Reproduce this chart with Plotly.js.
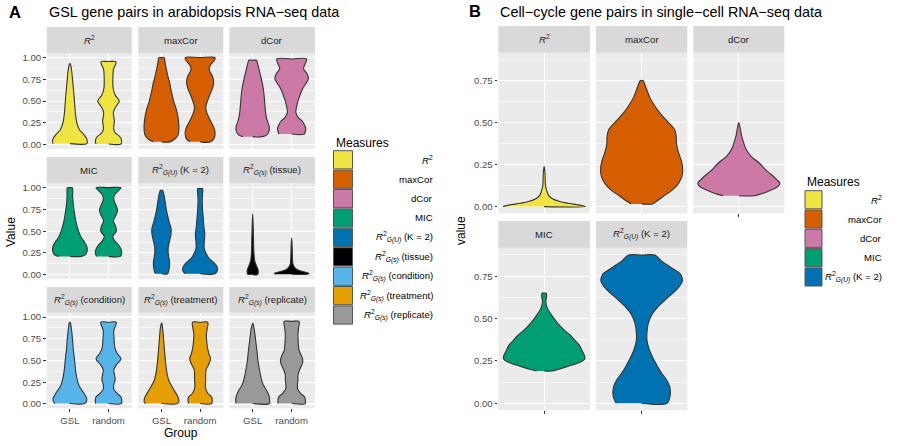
<!DOCTYPE html>
<html><head><meta charset="utf-8">
<script src="https://cdn.plot.ly/plotly-3.0.1.min.js"></script>
<style>html,body{margin:0;padding:0;background:#fff}#chart{width:900px;height:446px}</style>
</head><body><div id="chart"></div>
<script>
// ================= DATA =================
// Panel A: GSL gene pairs in arabidopsis RNA-seq data
const groupsA = ["GSL", "random"];
const measureLabelsA = [
  "<i>R</i><sup>2</sup>", "maxCor", "dCor", "MIC",
  "<i>R</i><sup>2</sup><sub><i>G(U)</i></sub> (K = 2)",
  "<i>R</i><sup>2</sup><sub><i>G(s)</i></sub> (tissue)",
  "<i>R</i><sup>2</sup><sub><i>G(s)</i></sub> (condition)",
  "<i>R</i><sup>2</sup><sub><i>G(s)</i></sub> (treatment)",
  "<i>R</i><sup>2</sup><sub><i>G(s)</i></sub> (replicate)"
];
const measureColorsA = ["#F0E442", "#D55E00", "#CC79A7", "#009E73", "#0072B2", "#000000", "#56B4E9", "#E69F00", "#999999"];

// Violin density profiles: value levels (Y) and relative half-widths (W)
const r2GslY = [0.01, 0.04, 0.08, 0.12, 0.17, 0.25, 0.35, 0.45, 0.6, 0.75, 0.85, 0.93];
const r2GslW = [0.97, 1.0, 0.93, 0.78, 0.55, 0.4, 0.32, 0.28, 0.22, 0.15, 0.1, 0.02];
const r2RndY = [0.005, 0.03, 0.07, 0.1, 0.13, 0.17, 0.21, 0.27, 0.32, 0.37, 0.43, 0.5, 0.57, 0.65, 0.75, 0.85, 0.9, 0.93, 0.955];
const r2RndW = [0.72, 0.75, 0.72, 0.6, 0.4, 0.3, 0.3, 0.34, 0.3, 0.28, 0.4, 0.62, 0.38, 0.26, 0.25, 0.27, 0.35, 0.42, 0.42];

const mcGslY = [0.03, 0.06, 0.1, 0.15, 0.22, 0.3, 0.4, 0.5, 0.6, 0.7, 0.8, 0.9, 0.96, 1.0];
const mcGslW = [0.48, 0.75, 0.93, 0.99, 1.0, 0.96, 0.86, 0.7, 0.58, 0.48, 0.35, 0.25, 0.19, 0.16];
const mcRndY = [0.03, 0.07, 0.12, 0.18, 0.25, 0.32, 0.38, 0.44, 0.5, 0.57, 0.64, 0.71, 0.78, 0.84, 0.88, 0.93, 0.97, 1.0];
const mcRndW = [0.6, 0.8, 0.86, 0.82, 0.65, 0.48, 0.36, 0.33, 0.42, 0.55, 0.7, 0.78, 0.72, 0.56, 0.52, 0.65, 0.82, 0.86];

const dcGslY = [0.09, 0.12, 0.17, 0.22, 0.28, 0.35, 0.45, 0.55, 0.65, 0.75, 0.85, 0.93, 0.97];
const dcGslW = [0.55, 0.85, 0.95, 0.93, 0.82, 0.75, 0.7, 0.66, 0.6, 0.5, 0.38, 0.28, 0.22];
const dcRndY = [0.12, 0.15, 0.19, 0.23, 0.27, 0.31, 0.37, 0.43, 0.5, 0.57, 0.64, 0.7, 0.76, 0.82, 0.87, 0.93, 0.985];
const dcRndW = [0.72, 0.78, 0.8, 0.72, 0.6, 0.38, 0.24, 0.28, 0.36, 0.48, 0.62, 0.8, 0.96, 0.86, 0.68, 0.78, 0.85];

const micGslY = [0.21, 0.23, 0.27, 0.32, 0.37, 0.43, 0.5, 0.6, 0.7, 0.8, 0.9, 1.0];
const micGslW = [0.65, 0.9, 0.99, 0.98, 0.85, 0.65, 0.5, 0.36, 0.27, 0.2, 0.16, 0.14];
const micRndY = [0.21, 0.24, 0.28, 0.33, 0.39, 0.44, 0.5, 0.56, 0.62, 0.68, 0.74, 0.8, 0.87, 0.92, 0.96, 1.0];
const micRndW = [0.68, 0.75, 0.74, 0.62, 0.35, 0.24, 0.45, 0.4, 0.28, 0.42, 0.52, 0.42, 0.3, 0.36, 0.55, 0.72];

const rguGslY = [0.01, 0.05, 0.1, 0.15, 0.2, 0.27, 0.33, 0.4, 0.47, 0.53, 0.6, 0.68, 0.76, 0.85, 0.92, 0.97];
const rguGslW = [0.35, 0.42, 0.46, 0.46, 0.42, 0.38, 0.4, 0.48, 0.55, 0.55, 0.45, 0.35, 0.27, 0.2, 0.14, 0.06];
const rguRndY = [0.01, 0.04, 0.07, 0.1, 0.14, 0.18, 0.23, 0.3, 0.38, 0.46, 0.55, 0.65, 0.75, 0.85, 0.93, 0.99];
const rguRndW = [0.85, 0.98, 1.0, 0.95, 0.78, 0.55, 0.38, 0.24, 0.24, 0.27, 0.22, 0.18, 0.14, 0.12, 0.14, 0.14];

const tisGslY = [0.0, 0.03, 0.06, 0.1, 0.15, 0.2, 0.3, 0.4, 0.55, 0.7];
const tisGslW = [0.28, 0.32, 0.3, 0.22, 0.13, 0.09, 0.06, 0.05, 0.03, 0.0];
const tisRndY = [0.005, 0.015, 0.03, 0.05, 0.08, 0.12, 0.18, 0.25, 0.33, 0.42];
const tisRndW = [0.9, 1.0, 0.75, 0.4, 0.18, 0.08, 0.05, 0.04, 0.03, 0.0];

const conGslY = [0.005, 0.03, 0.06, 0.1, 0.15, 0.2, 0.28, 0.38, 0.5, 0.62, 0.75, 0.86, 0.94];
const conGslW = [0.85, 0.95, 0.97, 0.88, 0.72, 0.55, 0.42, 0.33, 0.27, 0.2, 0.15, 0.09, 0.02];
const conRndY = [0.005, 0.04, 0.08, 0.12, 0.17, 0.22, 0.28, 0.33, 0.39, 0.45, 0.52, 0.58, 0.65, 0.75, 0.84, 0.9, 0.94];
const conRndW = [0.74, 0.76, 0.72, 0.5, 0.3, 0.3, 0.38, 0.35, 0.3, 0.45, 0.72, 0.5, 0.36, 0.32, 0.3, 0.4, 0.45];

const trtGslY = [0.005, 0.03, 0.06, 0.1, 0.15, 0.2, 0.27, 0.35, 0.45, 0.55, 0.67, 0.8, 0.88, 0.935];
const trtGslW = [0.92, 1.0, 0.98, 0.9, 0.75, 0.6, 0.42, 0.32, 0.25, 0.2, 0.15, 0.1, 0.06, 0.01];
const trtRndY = [0.005, 0.04, 0.08, 0.12, 0.17, 0.22, 0.28, 0.34, 0.4, 0.46, 0.52, 0.58, 0.65, 0.72, 0.8, 0.88, 0.94];
const trtRndW = [0.66, 0.7, 0.66, 0.45, 0.33, 0.3, 0.32, 0.32, 0.35, 0.5, 0.6, 0.5, 0.42, 0.38, 0.36, 0.42, 0.44];

const repGslY = [0.005, 0.04, 0.08, 0.12, 0.17, 0.22, 0.3, 0.4, 0.5, 0.6, 0.7, 0.8, 0.88, 0.93];
const repGslW = [0.95, 0.97, 0.95, 0.88, 0.75, 0.6, 0.48, 0.38, 0.3, 0.25, 0.19, 0.13, 0.07, 0.01];
const repRndY = [0.005, 0.04, 0.08, 0.12, 0.17, 0.22, 0.28, 0.33, 0.39, 0.45, 0.5, 0.56, 0.62, 0.7, 0.8, 0.88, 0.95];
const repRndW = [0.78, 0.78, 0.74, 0.52, 0.34, 0.33, 0.36, 0.36, 0.45, 0.58, 0.64, 0.55, 0.42, 0.38, 0.36, 0.4, 0.43];

// Panel B: Cell-cycle gene pairs in single-cell RNA-seq data
const measureLabelsB = measureLabelsA.slice(0, 5);
const measureColorsB = measureColorsA.slice(0, 5);
const bR2Y = [0.0, 0.006, 0.012, 0.02, 0.03, 0.05, 0.07, 0.09, 0.12, 0.16, 0.2, 0.24];
const bR2W = [1.0, 0.92, 0.78, 0.58, 0.38, 0.18, 0.1, 0.07, 0.035, 0.025, 0.02, 0.0];
const bMcY = [0.016, 0.03, 0.06, 0.1, 0.14, 0.18, 0.22, 0.27, 0.32, 0.37, 0.42, 0.46, 0.5, 0.55, 0.6, 0.65, 0.7, 0.752];
const bMcW = [0.26, 0.35, 0.52, 0.75, 0.9, 0.98, 1.0, 0.97, 0.9, 0.85, 0.84, 0.8, 0.66, 0.47, 0.32, 0.2, 0.12, 0.03];
const bDcY = [0.065, 0.08, 0.1, 0.12, 0.14, 0.16, 0.19, 0.22, 0.26, 0.3, 0.34, 0.38, 0.42, 0.46, 0.5];
const bDcW = [0.38, 0.6, 0.8, 0.96, 1.0, 0.93, 0.8, 0.65, 0.5, 0.3, 0.18, 0.12, 0.07, 0.04, 0.0];
const bMicY = [0.19, 0.2, 0.22, 0.24, 0.26, 0.28, 0.31, 0.34, 0.37, 0.4, 0.44, 0.48, 0.52, 0.56, 0.6, 0.63, 0.65];
const bMicW = [0.18, 0.35, 0.6, 0.85, 0.98, 0.98, 0.92, 0.86, 0.75, 0.64, 0.45, 0.3, 0.18, 0.08, 0.04, 0.06, 0.05];
const bRguY = [0.0, 0.03, 0.06, 0.1, 0.14, 0.18, 0.22, 0.27, 0.32, 0.37, 0.42, 0.47, 0.52, 0.57, 0.62, 0.67, 0.72, 0.76, 0.8, 0.84, 0.875];
const bRguW = [0.62, 0.68, 0.7, 0.68, 0.6, 0.48, 0.38, 0.27, 0.18, 0.13, 0.13, 0.16, 0.24, 0.4, 0.62, 0.85, 0.99, 0.95, 0.72, 0.48, 0.32];

const yTicksA = [0, 0.25, 0.5, 0.75, 1.0];
const yTicksB = [0, 0.25, 0.5, 0.75];

// ================= BUILD =================
const FONT = 'Liberation Sans, Arial, Helvetica, sans-serif';
const W = 900, H = 446;
const px = v => v / W, py = v => 1 - v / H;

const layout = {
  width: W, height: H, autosize: false,
  margin: {l: 0, r: 0, t: 0, b: 0},
  paper_bgcolor: '#ffffff', plot_bgcolor: '#ebebeb',
  showlegend: false, font: {family: FONT, color: '#000'},
  shapes: [], annotations: []
};
const traces = [];
let axN = 0;

function ann(x, y, text, o) {
  layout.annotations.push(Object.assign({
    xref: 'paper', yref: 'paper', x: px(x), y: py(y), text: text, showarrow: false,
    xanchor: 'center', yanchor: 'middle', font: {family: FONT, size: 9.6, color: '#1a1a1a'}
  }, o || {}));
}

function addPanel(o) {
  axN++;
  const s = axN === 1 ? '' : String(axN);
  const tickFont = {family: FONT, size: 9.6, color: '#4d4d4d'};
  const xa = {
    domain: [px(o.x0), px(o.x1)], range: o.xrange, anchor: 'y' + s,
    tickmode: 'array', tickvals: o.xtv,
    showticklabels: !!o.xlabels, ticks: o.xticks ? 'outside' : '', ticklen: 2.7, tickwidth: 1, tickcolor: '#333',
    showgrid: true, gridcolor: '#ffffff', gridwidth: 1.1, zeroline: false, showline: false,
    fixedrange: true, tickfont: tickFont
  };
  if (o.xtt) xa.ticktext = o.xtt;
  layout['xaxis' + s] = xa;
  layout['yaxis' + s] = {
    domain: [py(o.bot), py(o.top)], range: o.yrange, anchor: 'x' + s,
    tickmode: 'array', tickvals: o.ytv, tickformat: '.2f',
    showticklabels: !!o.ylabels, ticks: o.ylabels ? 'outside' : '', ticklen: 2.7, tickwidth: 1, tickcolor: '#333',
    showgrid: true, gridcolor: '#ffffff', gridwidth: 1.1, zeroline: false, showline: false,
    fixedrange: true, tickfont: tickFont,
    minor: {tickmode: 'linear', tick0: 0.125, dtick: 0.25, showgrid: true, gridcolor: '#ffffff', gridwidth: 0.55, ticks: ''}
  };
  // strip
  layout.shapes.push({type: 'rect', xref: 'paper', yref: 'paper', x0: px(o.x0), x1: px(o.x1),
    y0: py(o.top), y1: py(o.stripTop), fillcolor: '#d9d9d9', line: {width: 0}, layer: 'below'});
  ann((o.x0 + o.x1) / 2, (o.stripTop + o.top) / 2, o.label);
  return {x: 'x' + s, y: 'y' + s};
}

function violin(axes, c, hw, ys, ws, color) {
  const xs = [], yv = [];
  const n = ys.length - 1;
  if (ws[0] > 0.01) { xs.push(c); yv.push(ys[0]); }
  for (let i = 0; i <= n; i++) { xs.push(c + ws[i] * hw); yv.push(ys[i]); }
  const topFlat = ws[n] > 0.01;
  if (topFlat) { xs.push(c); yv.push(ys[n]); }
  for (let i = topFlat ? n : n - 1; i >= 0; i--) { xs.push(c - ws[i] * hw); yv.push(ys[i]); }
  traces.push({type: 'scatter', mode: 'lines', x: xs, y: yv, xaxis: axes.x, yaxis: axes.y,
    fill: 'toself', fillcolor: color, line: {color: '#333333', width: 1.1, shape: 'spline', smoothing: 1},
    hoverinfo: 'skip', showlegend: false});
}

// ---- Panel A ----
const profilesA = [
  [[r2GslY, r2GslW], [r2RndY, r2RndW]],
  [[mcGslY, mcGslW], [mcRndY, mcRndW]],
  [[dcGslY, dcGslW], [dcRndY, dcRndW]],
  [[micGslY, micGslW], [micRndY, micRndW]],
  [[rguGslY, rguGslW], [rguRndY, rguRndW]],
  [[tisGslY, tisGslW], [tisRndY, tisRndW]],
  [[conGslY, conGslW], [conRndY, conRndW]],
  [[trtGslY, trtGslW], [trtRndY, trtRndW]],
  [[repGslY, repGslW], [repRndY, repRndW]]
];
const colsA = [[46.7, 131.7], [138.3, 223.3], [229.3, 315]];
const rowsA = [{st: 27, t: 53.3, b: 148.8}, {st: 157, t: 183.3, b: 279}, {st: 287, t: 312.7, b: 408.3}];
for (let k = 0; k < 9; k++) {
  const r = Math.floor(k / 3), c = k % 3;
  const axes = addPanel({
    x0: colsA[c][0], x1: colsA[c][1], top: rowsA[r].t, bot: rowsA[r].b, stripTop: rowsA[r].st,
    xrange: [0.4, 2.6], xtv: [1, 2], xtt: groupsA, xlabels: r === 2, xticks: r === 2,
    yrange: [-0.05, 1.05], ytv: yTicksA, ylabels: c === 0, label: measureLabelsA[k]
  });
  profilesA[k].forEach((p, g) => violin(axes, g + 1, 0.45, p[0], p[1], measureColorsA[k]));
}

// ---- Panel B ----
const profilesB = [[bR2Y, bR2W], [bMcY, bMcW], [bDcY, bDcW], [bMicY, bMicW], [bRguY, bRguW]];
const colsB = [[498.3, 590], [596, 687.3], [693.3, 784.3]];
const rowsB = [{st: 26, t: 52.7, b: 213.3}, {st: 221, t: 247.7, b: 410}];
for (let k = 0; k < 5; k++) {
  const r = Math.floor(k / 3), c = k % 3;
  const axes = addPanel({
    x0: colsB[c][0], x1: colsB[c][1], top: rowsB[r].t, bot: rowsB[r].b, stripTop: rowsB[r].st,
    xrange: [0.4, 1.6], xtv: [1], xtt: null, xlabels: false, xticks: (r === 1 || c === 2),
    yrange: [-0.04, 0.918], ytv: yTicksB, ylabels: c === 0, label: measureLabelsB[k]
  });
  violin(axes, 1, 0.54, profilesB[k][0], profilesB[k][1], measureColorsB[k]);
}

// ---- Titles & axis titles ----
ann(14.5, 11.5, '<b>A</b>', {font: {family: FONT, size: 16.5, color: '#000'}});
ann(47, 12, 'GSL gene pairs in arabidopsis RNA\u2212seq data', {xanchor: 'left', font: {family: FONT, size: 14.4, color: '#000'}});
ann(475, 10.5, '<b>B</b>', {font: {family: FONT, size: 16.5, color: '#000'}});
ann(498, 12, 'Cell\u2212cycle gene pairs in single\u2212cell RNA\u2212seq data', {xanchor: 'left', font: {family: FONT, size: 14.4, color: '#000'}});
ann(181, 432.5, 'Group', {font: {family: FONT, size: 12, color: '#000'}});
ann(11, 232, 'Value', {textangle: -90, font: {family: FONT, size: 12, color: '#000'}});
ann(461, 231, 'value', {textangle: -90, font: {family: FONT, size: 12, color: '#000'}});

// ---- Legends ----
function legend(x0, x1, titleY, keyTop, step, labelRight, labels, colors) {
  ann(x0, titleY, 'Measures', {xanchor: 'left', font: {family: FONT, size: 12, color: '#000'}});
  labels.forEach((lab, i) => {
    const t = keyTop + step * i;
    layout.shapes.push({type: 'rect', xref: 'paper', yref: 'paper', x0: px(x0), x1: px(x1),
      y0: py(t + step - 1.2), y1: py(t), fillcolor: colors[i], line: {color: '#555555', width: 1}});
    ann(labelRight, t + (step - 1.2) / 2, lab, {xanchor: 'right', font: {family: FONT, size: 9.6, color: '#000'}});
  });
}
legend(333.5, 352.5, 143, 150.7, 19.4, 435, measureLabelsA, measureColorsA);
legend(805, 822, 182, 190.7, 19.3, 884, measureLabelsB, measureColorsB);

Plotly.newPlot('chart', traces, layout, {staticPlot: true, displayModeBar: false});
</script>
</body></html>
